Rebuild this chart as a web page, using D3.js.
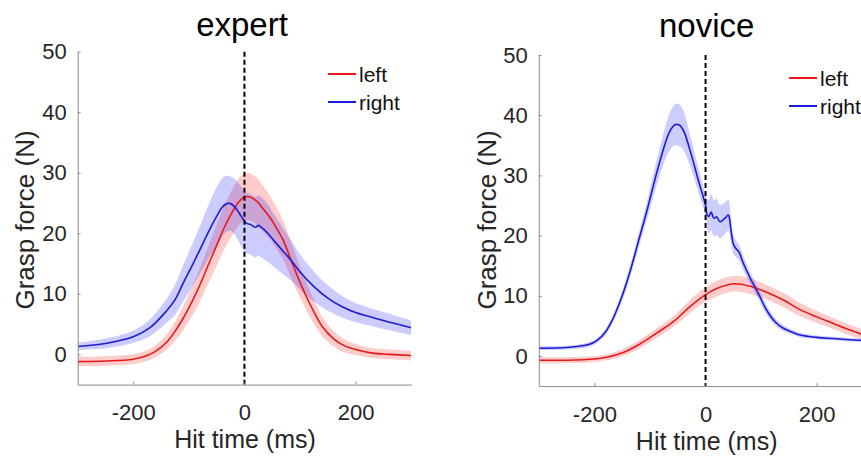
<!DOCTYPE html>
<html>
<head>
<meta charset="utf-8">
<script src="https://cdn.jsdelivr.net/npm/d3@7/dist/d3.min.js"></script>
<style>
  body { margin: 0; background: #fff; }
  svg text { font-family: "Liberation Sans", Arial, sans-serif; fill: #262626; }
</style>
</head>
<body>
<svg id="chart"></svg>
<script>
// ----------------------------------------
//  Data
// ----------------------------------------

var xTicks = [-200, 0, 200];
var yTicks = [0, 10, 20, 30, 40, 50];
var seriesNames = ["left", "right"];

// expert, left hand
var expertLeftT = [-300,-250,-200,-175,-160,-140,-125,-110,-95,-80,-65,-50,-35,-20,-10,0,10,22,34,46,58,70,82,95,110,125,140,160,180,200,230,260,300];
var expertLeftF = [-1.2,-1.1,-0.8,-0.2,0.5,2.0,3.8,6.0,8.6,11.5,14.8,18.0,21.2,23.8,25.2,26.0,26.0,25.3,24.0,22.6,20.8,18.8,16.0,13.0,9.8,7.0,4.6,2.6,1.4,0.8,0.2,0,-0.2];
var expertLeftSem = [0.8,0.8,0.8,0.9,1.0,1.3,1.6,2.0,2.4,2.8,3.1,3.4,3.6,3.8,3.9,3.9,3.9,3.9,3.8,3.6,3.4,3.2,3.0,2.7,2.3,2.0,1.6,1.3,1.1,0.9,0.8,0.8,0.8];

// expert, right hand
var expertRightT = [-300,-250,-200,-170,-140,-125,-110,-95,-80,-65,-50,-40,-32,-25,-18,-10,-3,0,5,10,15,20,25,30,40,52,70,85,100,125,150,175,200,250,300];
var expertRightF = [1.3,1.8,2.9,4.4,7.2,9.0,11.8,14.5,17.3,20.2,22.8,24.3,24.9,24.9,24.4,23.4,22.4,22.0,21.6,21.5,21.2,21.0,21.3,21.0,20.2,18.9,17.0,15.4,13.6,11.2,9.3,7.9,6.9,5.6,4.4];
var expertRightSem = [0.6,0.8,1.0,1.4,2.0,2.5,3.0,3.5,4.0,4.4,4.8,4.8,4.6,4.5,4.6,4.8,5.0,5.0,5.0,5.0,5.0,5.0,5.0,5.0,4.8,4.4,3.8,3.3,2.9,2.5,2.1,1.8,1.6,1.4,1.2];

// novice, left hand
var noviceLeftT = [-300,-250,-200,-178,-148,-118,-88,-58,-28,0,20,50,80,110,140,170,200,230,260,300];
var noviceLeftF = [-0.7,-0.7,-0.5,-0.2,0.6,2.0,3.8,5.7,8.2,10.2,11.2,12.0,11.6,10.6,9.3,7.7,6.5,5.4,4.3,3.0];
var noviceLeftSem = [0.5,0.5,0.5,0.5,0.6,0.7,0.8,0.9,1.1,1.2,1.3,1.3,1.3,1.2,1.2,1.1,1.0,0.9,0.9,0.8];

// novice, right hand
var noviceRightT = [-300,-250,-210,-195,-180,-165,-150,-135,-120,-105,-90,-75,-65,-55,-48,-40,-28,-13,0,3,6,10,15,20,26,35,41,45,50,55,60,68,80,96,110,125,140,155,170,200,230,260,300];
var noviceRightF = [1.3,1.4,1.9,2.6,4.0,6.5,10.0,14.3,19.3,24.3,29.7,34.6,37.2,38.4,38.4,37.5,34.2,29.2,25.0,23.4,23.2,23.9,22.9,23.1,22.3,22.9,23.4,21.5,18.6,17.8,17.3,15.4,13.0,10.2,7.6,5.7,4.6,4.0,3.5,3.1,2.9,2.7,2.5];
var noviceRightSem = [0.3,0.3,0.4,0.4,0.5,0.6,0.8,1.0,1.2,1.5,2.0,2.6,3.1,3.4,3.5,3.3,2.6,2.0,1.8,2.5,2.8,3.0,3.0,3.0,2.8,2.6,2.6,2.2,1.6,1.4,1.3,1.2,1.0,0.9,0.8,0.6,0.5,0.4,0.4,0.3,0.3,0.3,0.3];

function zipSeries(t, f, s) {
  return t.map(function(d, i) { return { t: d, f: f[i], s: s[i] }; });
}

// ----------------------------------------
//  Layout
// ----------------------------------------

var width = 861, height = 457;
var colors = { left: "rgb(232,24,24)", right: "rgb(28,28,214)" };

var panels = [
  { title: "expert", x0: 77.7, x1: 411.2, yTop: 51.7, yBot: 384.6,
    titleX: 242, titleY: 36, ylabX: 25, xlabX: 245, xlabY: 448,
    legX: 328, legY: 74,
    series: { left: zipSeries(expertLeftT, expertLeftF, expertLeftSem),
              right: zipSeries(expertRightT, expertRightF, expertRightSem) } },
  { title: "novice", x0: 538.8, x1: 872.3, yTop: 55, yBot: 386.1,
    titleX: 706.7, titleY: 37, ylabX: 486.7, xlabX: 706.7, xlabY: 450,
    legX: 789, legY: 78,
    series: { left: zipSeries(noviceLeftT, noviceLeftF, noviceLeftSem),
              right: zipSeries(noviceRightT, noviceRightF, noviceRightSem) } }
];

var svg = d3.select("#chart").attr("width", width).attr("height", height);

panels.forEach(function(p, pi) {
  var x = d3.scaleLinear().domain([-300, 300]).range([p.x0, p.x1]);
  var y = d3.scaleLinear().domain([-5, 50]).range([p.yBot, p.yTop]);

  var g = svg.append("g");

  g.append("clipPath").attr("id", "clip" + pi)
    .append("rect")
    .attr("x", p.x0).attr("y", p.yTop)
    .attr("width", p.x1 - p.x0).attr("height", p.yBot - p.yTop);

  var plot = g.append("g").attr("clip-path", "url(#clip" + pi + ")");

  var smooth = d3.curveCatmullRom.alpha(0.5);

  var area = d3.area()
    .x(function(d) { return x(d.t); })
    .y0(function(d) { return y(d.f - d.s); })
    .y1(function(d) { return y(d.f + d.s); })
    .curve(smooth);

  var line = d3.line()
    .x(function(d) { return x(d.t); })
    .y(function(d) { return y(d.f); })
    .curve(smooth);

  seriesNames.forEach(function(name) {
    plot.append("path")
      .datum(p.series[name])
      .attr("d", area)
      .attr("fill", name === "left" ? "rgb(255,0,0)" : "rgb(0,0,255)")
      .attr("fill-opacity", 0.2)
      .attr("stroke", "none");
  });

  seriesNames.forEach(function(name) {
    plot.append("path")
      .datum(p.series[name])
      .attr("d", line)
      .attr("fill", "none")
      .attr("stroke", colors[name])
      .attr("stroke-width", 1.6);
  });

  // hit time marker
  g.append("line")
    .attr("x1", x(0)).attr("x2", x(0))
    .attr("y1", p.yTop).attr("y2", p.yBot)
    .attr("stroke", "#000")
    .attr("stroke-width", 2)
    .attr("stroke-dasharray", "5,3");

  // axes, MATLAB style: ticks pointing in
  var xAxis = g.append("g")
    .attr("transform", "translate(0," + p.yBot + ")")
    .call(d3.axisBottom(x).tickValues(xTicks).tickSizeInner(-3).tickSizeOuter(0)
      .tickPadding(20).tickFormat(function(d) { return String(d); }));

  var yAxis = g.append("g")
    .attr("transform", "translate(" + p.x0 + ",0)")
    .call(d3.axisLeft(y).tickValues(yTicks).tickSizeInner(-3).tickSizeOuter(0)
      .tickPadding(11).tickFormat(function(d) { return String(d); }));

  [xAxis, yAxis].forEach(function(a) {
    a.select(".domain").attr("stroke", "#8a8a8a");
    a.selectAll(".tick line").attr("stroke", "#8a8a8a");
    a.selectAll(".tick text").attr("font-size", 22).attr("fill", "#2e2e2e")
      .style("font-family", "'Liberation Sans', Arial, sans-serif");
  });

  // titles and labels
  g.append("text")
    .attr("x", p.titleX).attr("y", p.titleY)
    .attr("text-anchor", "middle")
    .attr("font-size", 33)
    .style("fill", "#000")
    .text(p.title);

  g.append("text")
    .attr("x", p.xlabX).attr("y", p.xlabY)
    .attr("text-anchor", "middle")
    .attr("font-size", 25)
    .text("Hit time (ms)");

  g.append("text")
    .attr("transform", "translate(" + p.ylabX + ",220) rotate(-90)")
    .attr("text-anchor", "middle")
    .attr("dy", "0.35em")
    .attr("font-size", 26)
    .text("Grasp force (N)");

  // legend
  seriesNames.forEach(function(name, i) {
    var ly = p.legY + i * 28;
    g.append("line")
      .attr("x1", p.legX).attr("x2", p.legX + 28)
      .attr("y1", ly).attr("y2", ly)
      .attr("stroke", colors[name])
      .attr("stroke-width", 2);
    g.append("text")
      .attr("x", p.legX + 31).attr("y", ly + 8)
      .attr("font-size", 21)
      .style("fill", "#111")
      .text(name);
  });
});
</script>
</body>
</html>
